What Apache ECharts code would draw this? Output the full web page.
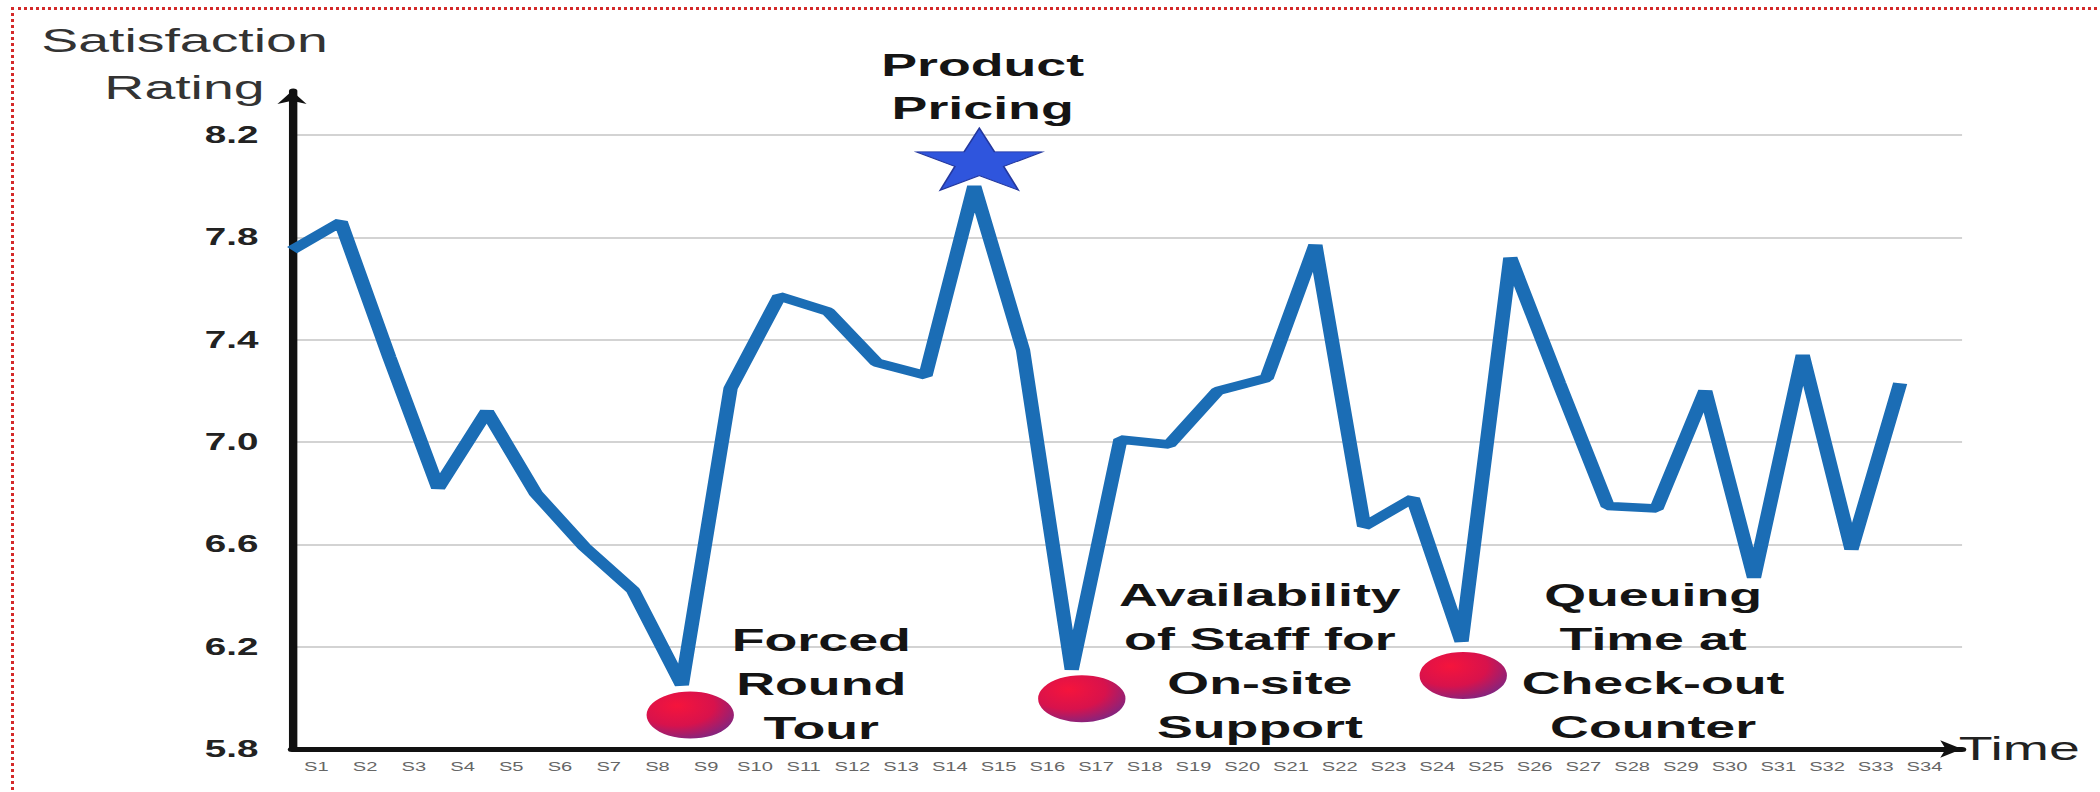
<!DOCTYPE html>
<html>
<head>
<meta charset="utf-8">
<script src="https://cdn.jsdelivr.net/npm/echarts@6.0.0/dist/echarts.min.js"></script>
<style>
  html, body { margin: 0; padding: 0; background: #ffffff; }
  body { width: 2100px; height: 792px; overflow: hidden; position: relative; }
  #frame {
    position: absolute; left: 11px; top: 7px; width: 2300px; height: 900px;
    border-top: 3px dotted #d42a2a; border-left: 3px dotted #d42a2a;
    pointer-events: none;
  }
  /* the chart is laid out narrow and stretched wide */
  #chart {
    position: absolute; left: 0; top: 0; width: 1250px; height: 792px;
    transform: scaleX(1.68); transform-origin: 0 0;
  }
</style>
</head>
<body>
<div id="chart"></div>
<div id="frame"></div>
<script>
// Survey sessions along the time axis
const categories = ['S1','S2','S3','S4','S5','S6','S7','S8','S9','S10','S11','S12','S13','S14','S15','S16','S17',
  'S18','S19','S20','S21','S22','S23','S24','S25','S26','S27','S28','S29','S30','S31','S32','S33','S34'];

// Average satisfaction rating per session
const ratings = [7.75, 7.86, 7.33, 6.82, 7.12, 6.80, 6.59, 6.42, 6.05, 7.21, 7.57, 7.51, 7.31, 7.26, 8.00, 7.36, 6.11,
  7.01, 6.99, 7.20, 7.25, 7.77, 6.67, 6.78, 6.22, 7.72, 7.23, 6.75, 6.74, 7.20, 6.47, 7.34, 6.58, 7.23];

// Rating axis tick labels
const yTickValues = [5.8, 6.2, 6.6, 7.0, 7.4, 7.8, 8.2];

// Key drivers highlighted at the extreme sessions
const callouts = [
  { at: 'S15', text: 'Product\nPricing', kind: 'star' },
  { at: 'S9',  text: 'Forced\nRound\nTour', kind: 'dot' },
  { at: 'S17', text: 'Availability\nof Staff for\nOn-site\nSupport', kind: 'dot' },
  { at: 'S25', text: 'Queuing\nTime at\nCheck-out\nCounter', kind: 'dot' }
];

// marker / text placement around each highlighted session
const calloutLayout = {
  S15: { symbolOffset: [3, -27], labelOffset: [2, -73] },
  S9:  { symbolOffset: [5, 30],  labelOffset: [78, -31] },
  S17: { symbolOffset: [6, 29],  labelOffset: [106, -38] },
  S25: { symbolOffset: [1, 34],  labelOffset: [113, -15] }
};

const STAR = 'path://M50,0 L61.8,35.1 L98.9,35.1 L68.9,56.8 L80.3,91.9 L50,70.3 L19.7,91.9 L31.1,56.8 L1.1,35.1 L38.2,35.1 Z';
const FONT = '"Liberation Sans", Arial, sans-serif';

const dotFill = {
  type: 'radial', x: 0.35, y: 0.3, r: 0.85,
  colorStops: [
    { offset: 0, color: '#f5143c' },
    { offset: 0.5, color: '#d8124c' },
    { offset: 1, color: '#6a2a8e' }
  ]
};

const markers = callouts.map(c => {
  const i = categories.indexOf(c.at);
  const lay = calloutLayout[c.at];
  const isStar = c.kind === 'star';
  return {
    coord: [i, ratings[i]],
    symbol: isStar ? STAR : 'circle',
    symbolSize: isStar ? [75, 62] : [52, 47],
    symbolOffset: lay.symbolOffset,
    itemStyle: isStar
      ? { color: '#2f55dd', borderColor: '#24389e', borderWidth: 1 }
      : { color: dotFill },
    label: {
      show: true,
      position: 'inside',
      offset: lay.labelOffset,
      formatter: c.text,
      fontFamily: FONT,
      fontSize: 32,
      fontWeight: 'bold',
      color: '#141414',
      lineHeight: isStar ? 43 : 44,
      align: 'center',
      verticalAlign: 'middle'
    }
  };
});

const xMax = 34.27;
const yMax = 8.372;

const chart = echarts.init(document.getElementById('chart'), null, { renderer: 'svg' });
chart.setOption({
  backgroundColor: 'transparent',
  animation: false,
  grid: { left: 173.8, right: 82.1, top: 91, bottom: 43, containLabel: false },
  xAxis: {
    type: 'value',
    min: 0,
    max: xMax,
    name: 'Time',
    nameLocation: 'end',
    nameGap: -2,
    nameTextStyle: { fontFamily: FONT, fontSize: 33, color: '#222', align: 'left', verticalAlign: 'middle' },
    axisLine: {
      show: true, onZero: false,
      symbol: ['none', 'arrow'], symbolSize: [13, 13],
      lineStyle: { color: '#111', width: 5 }
    },
    axisTick: { show: false, customValues: categories.map((_, i) => i) },
    axisLabel: {
      customValues: categories.map((_, i) => i),
      formatter: v => categories[Math.round(v)] || '',
      fontFamily: FONT, fontSize: 12, color: '#666',
      margin: 12,
      padding: [0, 0, 0, 29]
    },
    splitLine: { show: false }
  },
  yAxis: {
    type: 'value',
    min: 5.8,
    max: yMax,
    name: 'Satisfaction\nRating',
    nameLocation: 'end',
    nameGap: 27,
    nameTextStyle: {
      fontFamily: FONT, fontSize: 33, lineHeight: 47, color: '#333',
      align: 'center', verticalAlign: 'middle', padding: [0, 128, 0, 0]
    },
    axisLine: {
      show: true, onZero: false,
      symbol: ['none', 'arrow'], symbolSize: [13, 13],
      lineStyle: { color: '#111', width: 5 }
    },
    axisTick: { show: false, customValues: yTickValues },
    axisLabel: {
      customValues: yTickValues,
      formatter: v => v.toFixed(1),
      fontFamily: FONT, fontSize: 23, fontWeight: 'bold', color: '#222',
      margin: 20
    },
    splitLine: { show: true, lineStyle: { color: '#c4c4c4', width: 1.5 } }
  },
  series: [{
    type: 'line',
    data: ratings.map((v, i) => [i, v]),
    symbol: 'none',
    lineStyle: { color: '#1b6db5', width: 8.5 },
    z: 3,
    markPoint: { data: markers, z: 5, silent: true }
  }]
});
</script>
</body>
</html>
